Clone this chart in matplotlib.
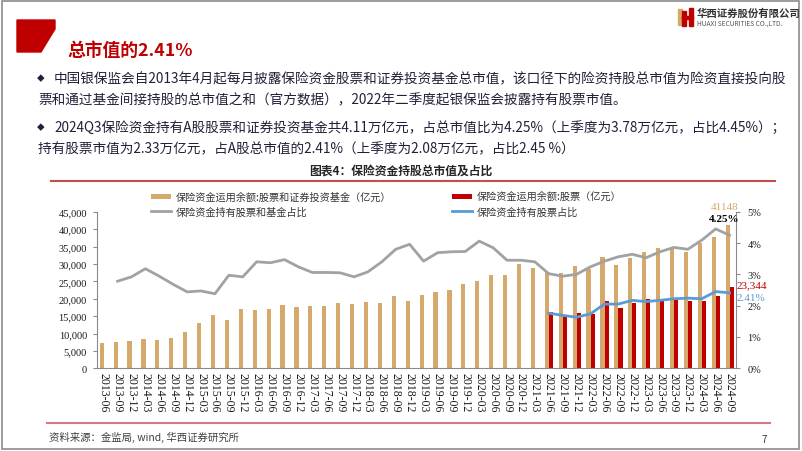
import matplotlib
matplotlib.use("Agg")
import matplotlib.pyplot as plt
from matplotlib.patches import Polygon, Rectangle
from matplotlib.lines import Line2D
import numpy as np

plt.rcParams['font.family'] = ['Noto Sans CJK SC', 'DejaVu Sans']

# quarters shown on the x axis
quarters = ['2013-06', '2013-09', '2013-12', '2014-03', '2014-06', '2014-09', '2014-12',
            '2015-03', '2015-06', '2015-09', '2015-12', '2016-03', '2016-06', '2016-09',
            '2016-12', '2017-03', '2017-06', '2017-09', '2017-12', '2018-03', '2018-06',
            '2018-09', '2018-12', '2019-03', '2019-06', '2019-09', '2019-12', '2020-03',
            '2020-06', '2020-09', '2020-12', '2021-03', '2021-06', '2021-09', '2021-12',
            '2022-03', '2022-06', '2022-09', '2022-12', '2023-03', '2023-06', '2023-09',
            '2023-12', '2024-03', '2024-06', '2024-09']

# 保险资金运用余额:股票和证券投资基金（亿元）
fund_total = [7300, 7550, 7850, 8400, 8050, 8700, 10350, 13000, 15300, 13800, 16950, 16750,
              16950, 18200, 17700, 17900, 17900, 18850, 18400, 19050, 18850, 20700, 19250,
              21150, 21950, 22400, 24300, 25000, 26900, 26800, 29900, 28750, 27750, 27400,
              29500, 28550, 31900, 29700, 31800, 33350, 34650, 34750, 33350, 36100, 37800,
              41148]

# 保险资金运用余额:股票（亿元）, disclosed from 2021-06
stock_start = '2021-06'
stock_total = [16100, 15400, 16000, 15600, 19350, 17350, 18850, 20000, 20000, 20000,
               19450, 19450, 20800, 23344]

# 保险资金持有股票和基金占比 (%), starts 2013-09
fund_ratio = [None, 2.78, 2.92, 3.18, 2.94, 2.68, 2.44, 2.47, 2.38, 2.97, 2.92, 3.40,
              3.37, 3.47, 3.24, 3.06, 3.06, 3.05, 2.92, 3.08, 3.40, 3.80, 3.96, 3.42,
              3.69, 3.72, 3.73, 4.06, 3.85, 3.45, 3.45, 3.40, 3.02, 2.94, 3.00, 3.24,
              3.42, 3.56, 3.64, 3.53, 3.72, 3.86, 3.80, 4.09, 4.45, 4.25]

# 保险资金持有股票占比 (%), from 2021-06
stock_ratio = [1.76, 1.69, 1.63, 1.74, 2.05, 2.05, 2.17, 2.13, 2.17, 2.22, 2.24, 2.22,
               2.45, 2.41]

gold = '#D5A96B'
red = '#C00000'
grey = '#A2A2A2'
blue = '#5B9BD5'
txtc = '#202038'
serif = 'Liberation Serif'

W, H = 802, 452
def fx(px):
    return px / W
def fy(py):
    return 1 - py / H

fig = plt.figure(figsize=(8.02, 4.52), dpi=100)
ax = fig.add_axes([fx(96.7), fy(369.3), fx(736.5) - fx(96.7), fy(212.7) - fy(369.3)])
ax2 = ax.twinx()

x = np.arange(len(quarters))
s0 = quarters.index(stock_start)
xs = x[s0:]

b1 = ax.bar(x - 0.14, fund_total, width=0.3, color=gold, zorder=2)
b2 = ax.bar(xs + 0.16, stock_total, width=0.3, color=red, zorder=2)

fr = np.array([np.nan if v is None else v for v in fund_ratio])
l1, = ax2.plot(x, fr, color=grey, lw=2)
l2, = ax2.plot(xs, stock_ratio, color=blue, lw=2)

ax.set_xlim(-0.5, len(quarters) - 0.5)
ax.set_ylim(0, 45000)
ax2.set_ylim(0, 5)
ax.set_yticks(range(0, 45001, 5000))
ax.set_yticklabels([f'{v:,}' for v in range(0, 45001, 5000)])
ax2.set_yticks(range(0, 6))
ax2.set_yticklabels([f'{v}%' for v in range(0, 6)])
ax.set_xticks(x)
ax.set_xticklabels(quarters, rotation=-90)

for a in (ax, ax2):
    a.spines['top'].set_visible(False)
    for s in a.spines.values():
        s.set_color('#8a8a8a')
        s.set_linewidth(0.8)
ax.spines['right'].set_visible(False)
ax2.spines['left'].set_visible(False)
ax2.spines['bottom'].set_visible(False)

ax.tick_params(axis='y', length=3, width=0.8, color='#8a8a8a', pad=4, labelsize=7.5)
ax.tick_params(axis='x', length=0, pad=3, labelsize=8.5)
ax2.tick_params(axis='y', length=3, width=0.8, color='#8a8a8a', pad=5, labelsize=7.5)
for lab in ax.get_xticklabels() + ax.get_yticklabels() + ax2.get_yticklabels():
    lab.set_family(serif)
    lab.set_color('#1a1a1a')

# end-of-series labels
ax.annotate(f'{fund_total[-1]}', xy=(x[-1] - 0.14, fund_total[-1]), xytext=(-3, 19),
            textcoords='offset pixels', ha='center', va='center', color=gold,
            fontsize=8, family=serif)
ax2.annotate(f'{fund_ratio[-1]:.2f}%', xy=(x[-1], fund_ratio[-1]), xytext=(-5, 17),
             textcoords='offset pixels', ha='center', va='center', color='black',
             fontsize=8, family=serif, weight='bold')
ax.annotate(f'{stock_total[-1]:,}', xy=(xs[-1] + 0.16, stock_total[-1]), xytext=(5, 2),
            textcoords='offset pixels', ha='left', va='center', color=red,
            fontsize=8, family=serif, annotation_clip=False)
ax2.annotate(f'{stock_ratio[-1]:.2f}%', xy=(xs[-1], stock_ratio[-1]), xytext=(7, -5),
             textcoords='offset pixels', ha='left', va='center', color=blue,
             fontsize=8, family=serif, annotation_clip=False)

# legends
leg_kw = dict(loc='upper left', frameon=False, fontsize=7.3, handlelength=2.0,
              handleheight=0.5, handletextpad=0.4, labelspacing=0.4,
              borderpad=0, borderaxespad=0, labelcolor='#333333')
fig.legend([b1, l1], ['保险资金运用余额:股票和证券投资基金（亿元）', '保险资金持有股票和基金占比'],
           bbox_to_anchor=(fx(151), fy(193)), **leg_kw)
fig.legend([b2, l2], ['保险资金运用余额:股票（亿元）', '保险资金持有股票占比'],
           bbox_to_anchor=(fx(452), fy(193)), **leg_kw)

# slide decoration
fig.add_artist(Rectangle((fx(1.5), fy(450)), fx(799) - fx(1.5), fy(2) - fy(450),
                         transform=fig.transFigure, fill=False, edgecolor='#8c8c8c', lw=1.2))
block = [(17, 21), (55, 21), (55, 30), (41, 53), (17, 53)]
fig.add_artist(Polygon([(fx(a), fy(b)) for a, b in block], closed=True,
                       transform=fig.transFigure, color=red))
fig.text(fx(67), fy(50.5), '总市值的2.41%', color=red, fontsize=12.8, weight='bold', va='center')

# logo
for (lx, ly, lw_, lh, c) in [(678, 10, 4, 16, gold), (682, 12, 4, 15, red),
                             (689, 9, 4, 18, red), (682, 17, 11, 3, red)]:
    fig.add_artist(Rectangle((fx(lx), fy(ly + lh)), fx(lw_), lh / H,
                             transform=fig.transFigure, color=c))
fig.text(fx(697), fy(13.5), '华西证券股份有限公司', fontsize=7.5, weight='bold', color='#333333',
         va='center')
fig.text(fx(697), fy(23.5), 'HUAXI SECURITIES CO.,LTD.', fontsize=4.8, color='#555555',
         va='center')

# bullet text
line1 = '中国银保监会自2013年4月起每月披露保险资金股票和证券投资基金总市值，该口径下的险资持股总市值为险资直接投向股'
line2 = '票和通过基金间接持股的总市值之和（官方数据），2022年二季度起银保监会披露持有股票市值。'
line3 = '2024Q3保险资金持有A股股票和证券投资基金共4.11万亿元，占总市值比为4.25%（上季度为3.78万亿元，占比4.45%）；'
line4 = '持有股票市值为2.33万亿元，占A股总市值的2.41%（上季度为2.08万亿元，占比2.45 %）'
for by in (79, 128):
    fig.text(fx(41), fy(by), '◆', fontsize=5.5, color=txtc, ha='center', va='center')
fig.text(fx(54), fy(79), line1, fontsize=9.8, color=txtc, va='center')
fig.text(fx(38), fy(100), line2, fontsize=9.8, color=txtc, va='center')
fig.text(fx(54), fy(128), line3, fontsize=9.8, color=txtc, va='center')
fig.text(fx(38), fy(149), line4, fontsize=9.8, color=txtc, va='center')

fig.text(fx(401), fy(172), '图表4：保险资金持股总市值及占比', ha='center', va='center',
         fontsize=8.5, weight='bold', color='#262626')
fig.add_artist(Line2D([fx(51), fx(775)], [fy(182), fy(182)], color='#C0504D', lw=1.5))
fig.add_artist(Line2D([fx(47), fx(770)], [fy(424), fy(424)], color='#D77A7B', lw=1.5))
fig.text(fx(49), fy(437), '资料来源：金监局, wind, 华西证券研究所', fontsize=7.5, style='italic',
         color='#404040', va='center')
fig.text(fx(762), fy(440), '7', fontsize=7, color='#333333', va='center')

fig.savefig('out.png', dpi=100)
